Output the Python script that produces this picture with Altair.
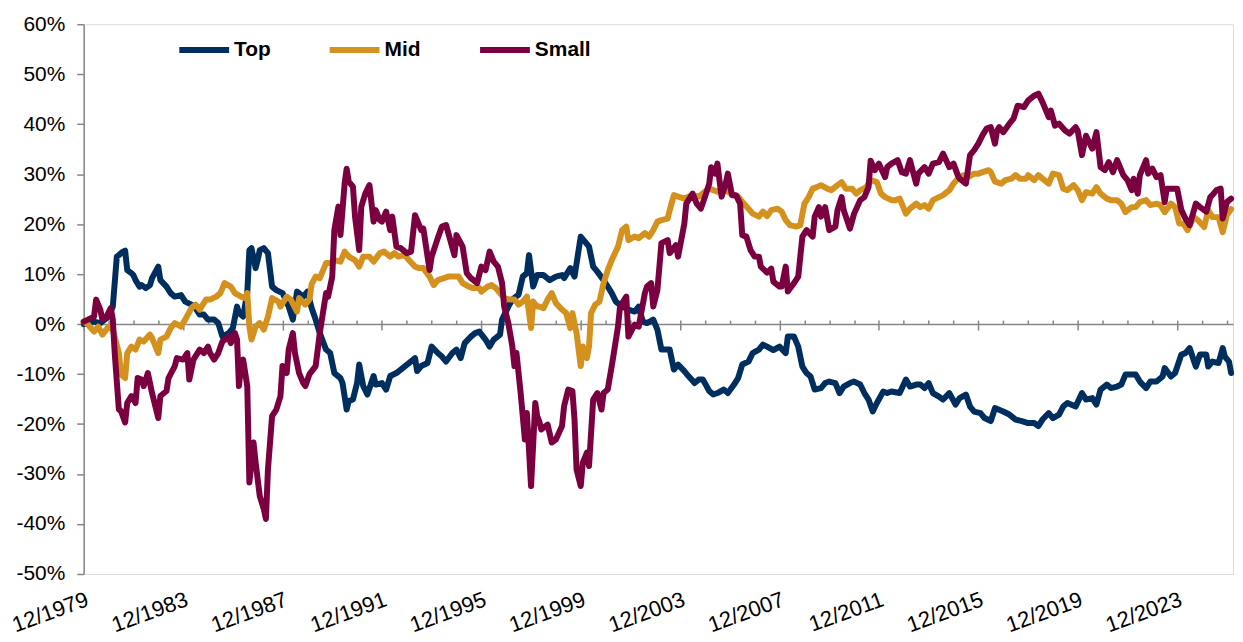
import altair as alt
import pandas as pd

series_names = ["Top", "Mid", "Small"]
series_colors = ["#002F5F", "#D4911E", "#7A0040"]

# months elapsed since 12/1979, and the value in percent
top_months = [0,5,8,12,14,16,17,19,20,21,23,24,25,27,28,30,32,33,36,37,40,42,44,47,49,52,54,56,58,60,63,65,67,70,72,74,75,77,79,80,81,83,84,85,87,89,91,93,96,99,101,103,106,108,110,112,114,117,119,121,124,125,127,128,130,132,133,135,137,140,141,144,146,148,151,154,157,160,161,163,166,168,171,173,175,178,180,182,184,187,189,191,194,196,198,201,202,205,207,210,212,214,215,217,219,222,225,228,231,232,235,237,240,242,244,246,248,251,253,255,257,260,263,266,268,270,272,275,277,279,283,285,287,290,292,295,297,299,302,304,306,309,311,314,316,318,321,323,326,328,330,333,336,339,340,343,345,347,349,351,353,356,358,360,363,365,367,370,372,375,377,379,381,383,386,388,390,394,397,399,402,404,406,408,410,413,415,418,421,423,426,428,430,433,435,438,440,444,447,450,453,456,459,461,463,466,468,471,473,475,479,482,484,487,489,491,494,496,499,501,503,506,508,510,513,515,518,521,522,525,527,530,532,534,537,539,542,543,545,548,550,551,553,554]
top_values = [0,0.5,0.2,1.5,3.5,13.5,13.8,14.5,14.7,10.8,10.2,9.8,8.8,7.5,7.8,7.2,7.8,9.2,11.5,8.8,7.5,6.2,5.5,5.8,4.5,3.9,3.2,1.9,1.9,0.9,0.9,0.2,-2.5,-1.8,-0.8,3.5,2.2,1.5,6.2,14.8,15.2,11.2,12.8,14.8,15.2,14.2,7.5,6.8,6.2,3.5,0.9,6.5,5.5,6.5,3.2,0.9,-1.8,-5.1,-5.8,-9.8,-10.8,-11.8,-17.1,-15.4,-15.1,-11.8,-8.1,-12.4,-14.1,-10.4,-12.1,-11.8,-13.1,-10.4,-9.8,-8.8,-7.8,-6.8,-9.4,-8.4,-7.8,-4.5,-5.8,-6.5,-7.5,-5.8,-5.1,-6.8,-3.8,-2.5,-1.8,-1.5,-3.1,-4.5,-3.1,-2.1,0.9,3.5,4.9,5.9,9.5,10.2,13.8,7.5,9.8,9.8,8.8,9.5,9.8,9.2,11.2,9.5,17.5,16.5,15.5,11.5,10.5,8.8,7.5,6.2,4.5,3.5,2.9,2.5,3.5,0.5,0.2,0.9,-1.1,-5.1,-5.1,-9.1,-8.1,-9.4,-10.4,-11.8,-11.1,-11.1,-13.4,-14.1,-13.8,-13.1,-13.8,-12.1,-10.8,-8.1,-7.5,-5.8,-5.1,-4.1,-4.5,-5.2,-4.5,-5.8,-2.5,-2.5,-4.5,-8.5,-9.8,-10.5,-13.1,-12.8,-11.8,-11.5,-11.8,-13.8,-12.5,-11.8,-11.5,-12.1,-13.8,-15.1,-17.5,-15.8,-13.5,-13.8,-13.5,-13.8,-11.1,-12.5,-12.1,-12.1,-12.8,-11.8,-13.8,-14.5,-15.1,-13.8,-16.1,-14.8,-14.1,-16.5,-17.5,-17.8,-18.8,-19.4,-16.8,-17.5,-18.1,-19.1,-19.4,-19.8,-19.8,-20.4,-19.1,-17.8,-18.8,-18.1,-16.5,-15.8,-16.5,-13.8,-15.1,-14.8,-16.1,-13.1,-12.1,-12.8,-12.5,-12.1,-10.1,-10.1,-10.1,-11.5,-12.8,-11.5,-11.5,-10.5,-8.8,-10.5,-9.8,-6.1,-5.8,-4.8,-8.5,-6.1,-6.1,-8.5,-7.5,-7.8,-4.8,-6.5,-7.5,-9.8]

mid_months = [0,2,5,7,9,12,14,17,18,20,21,23,25,27,29,32,33,36,37,40,42,44,47,49,52,54,56,59,61,64,66,68,71,73,76,78,79,80,81,83,85,87,89,91,94,95,98,100,103,104,107,109,110,112,114,117,119,121,124,126,128,131,133,135,138,140,143,145,148,150,152,155,157,160,162,164,167,169,171,174,176,179,181,183,186,188,191,192,195,197,199,201,203,206,208,210,212,214,216,217,219,220,222,224,226,228,231,233,235,236,238,240,241,243,244,245,247,249,251,253,255,258,260,262,263,266,268,271,273,275,277,279,282,283,285,287,290,292,294,297,300,302,304,306,309,311,314,316,318,321,323,326,328,330,332,335,337,339,341,344,346,348,350,352,354,356,359,361,364,366,368,371,373,375,378,380,383,385,387,390,392,394,397,399,402,404,406,408,410,413,415,418,420,422,425,427,430,432,434,437,438,440,443,445,448,450,452,455,456,459,461,463,466,468,471,473,475,478,480,482,484,487,489,491,494,496,499,501,503,506,508,510,513,515,518,520,522,525,527,529,531,533,536,538,541,543,545,548,550,552,554]
mid_values = [0.5,-0.1,-1.5,-0.5,-2.1,-0.5,-1.1,-5.8,-10.1,-10.8,-5.8,-4.5,-5.1,-3.1,-3.5,-2.1,-2.8,-5.8,-3.1,-2.5,-0.8,0.2,-0.5,0.9,3.2,3.9,2.9,4.9,4.9,5.5,6.2,8.2,7.5,6.2,5.5,5.2,6.2,-0.5,-3.1,-0.5,0.2,-1.1,1.5,5.2,4.5,3.5,5.5,4.9,2.5,5.2,3.9,5.0,8.0,9.5,9.2,12.2,12.2,12.8,12.5,14.5,13.5,12.8,11.5,13.5,13.5,12.5,14.2,14.5,13.5,14.2,13.5,13.8,12.8,11.5,11.2,11.2,9.5,7.8,8.8,9.2,9.5,9.5,9.5,8.2,7.5,7.2,7.2,6.5,7.5,7.8,7.2,6.2,5.2,4.9,4.9,3.9,4.5,5.5,-0.8,4.5,3.5,3.5,3.2,4.9,6.2,4.2,2.9,2.2,-0.8,2.2,-1.8,-8.4,-4.5,-6.8,-4.5,2.2,3.9,4.5,8.2,10.8,12.8,15.5,18.8,19.5,16.8,17.5,17.2,18.2,17.5,18.8,20.5,20.8,21.1,22.8,25.8,25.5,25.1,25.5,25.8,25.5,26.5,27.1,26.8,26.5,26.8,26.5,25.8,25.5,24.5,23.1,22.1,21.5,22.5,21.6,22.8,23.1,22.5,20.8,19.8,19.5,19.8,24.1,25.4,27.1,27.4,27.8,27.1,26.8,27.8,28.4,27.1,27.1,26.1,26.8,27.4,28.8,28.4,26.1,25.4,24.8,24.8,25.1,22.1,23.1,24.1,23.4,23.8,23.1,24.8,25.4,25.8,26.8,28.1,29.1,29.8,29.4,30.1,30.1,30.4,30.8,30.4,28.5,28.1,28.8,29.1,29.8,29.1,29.1,29.8,28.8,29.8,29.1,28.1,30.1,29.8,27.1,26.8,27.8,26.8,24.8,26.4,26.1,27.4,26.1,25.1,24.8,24.8,24.1,22.4,23.4,23.4,24.4,24.8,23.8,24.1,23.8,22.4,24.1,23.4,20.1,20.1,18.8,21.4,20.8,19.4,22.8,21.4,21.4,18.4,21.8,23.0]

small_months = [0,2,5,6,8,9,11,13,14,15,17,18,20,21,23,25,26,28,29,31,33,36,37,40,41,44,45,48,50,51,53,56,58,60,61,63,65,67,70,71,73,74,75,76,77,79,80,82,83,85,87,88,89,91,93,95,96,98,99,101,102,104,106,107,109,112,114,117,118,120,121,123,124,126,127,128,130,131,133,134,136,138,140,141,143,144,146,148,149,151,153,156,158,160,163,164,167,168,171,173,175,177,179,180,183,185,187,190,192,194,196,198,200,202,203,205,207,208,209,211,212,213,214,216,218,219,220,221,224,226,228,231,232,234,236,237,238,240,241,243,244,246,248,250,251,253,255,256,258,259,262,263,266,268,271,272,274,275,277,279,282,283,286,287,290,291,294,296,298,300,302,303,305,306,308,310,311,313,315,317,318,320,322,324,326,327,330,332,333,336,337,339,340,343,345,347,349,352,353,355,356,358,360,363,364,366,367,370,372,375,377,379,380,382,384,387,388,390,393,395,397,399,402,403,406,408,410,413,415,418,420,422,423,426,428,430,432,434,436,438,440,441,442,444,447,449,451,454,456,459,461,463,466,467,469,471,474,476,479,480,482,484,487,489,491,493,495,497,499,502,504,506,507,509,510,513,514,516,518,520,522,523,526,528,530,532,534,537,539,542,544,545,547,549,550,552,554]
small_values = [0.5,0.9,1.5,4.9,2.9,0.9,1.5,3.2,0.9,-5.8,-17.1,-17.4,-19.7,-15.8,-14.4,-15.8,-10.8,-11.1,-12.4,-9.8,-13.8,-18.8,-14.4,-13.4,-10.8,-8.4,-6.8,-7.1,-5.8,-11.1,-7.1,-5.1,-5.8,-4.5,-5.8,-7.1,-5.8,-3.5,-2.5,-3.8,-1.8,-3.1,-12.4,-8.4,-7.1,-12.4,-31.7,-23.7,-27.7,-34.4,-37.0,-39.0,-29.1,-18.4,-17.1,-14.4,-8.4,-9.8,-5.1,-1.8,-5.8,-9.8,-11.8,-12.4,-10.0,-8.4,-1.8,6.2,5.5,9.5,18.8,23.5,17.8,28.1,31.1,28.5,27.5,21.5,14.8,23.5,26.1,27.8,20.5,22.8,20.8,20.5,22.5,18.8,21.5,15.5,15.2,14.2,14.5,21.8,18.8,19.1,10.8,13.5,17.2,19.5,19.8,16.8,13.8,17.8,15.5,10.2,9.2,8.2,11.5,10.8,14.5,12.5,11.5,8.2,3.5,0.2,-4.5,-8.4,-5.8,-13.8,-18.4,-23.1,-17.8,-32.4,-15.8,-18.4,-19.5,-21.1,-20.1,-23.7,-23.1,-20.4,-16.4,-13.1,-13.4,-19.1,-29.1,-32.4,-27.7,-25.7,-28.4,-15.1,-13.8,-17.1,-13.8,-13.1,-8.4,-5.8,-0.5,3.5,5.5,-2.5,-0.1,-0.5,6.2,7.5,8.2,3.5,6.8,16.2,16.8,14.2,15.8,13.5,20.1,24.1,26.1,24.1,23.1,25.5,28.1,31.4,30.1,32.1,25.5,28.1,30.1,25.8,25.8,24.1,17.8,17.5,14.8,13.5,13.5,11.5,10.3,11.1,8.5,7.5,7.5,11.5,6.5,8.2,9.5,17.5,18.8,17.5,21.5,23.4,21.5,23.4,18.8,19.5,22.8,25.4,22.8,19.1,22.1,24.8,25.4,27.4,32.7,30.8,32.1,29.4,31.4,32.1,32.8,30.4,30.1,32.8,28.1,30.1,31.4,30.1,32.1,32.4,34.1,31.4,32.1,29.8,29.1,28.1,33.8,34.8,36.1,37.8,39.1,39.4,36.1,38.7,39.4,38.4,40.1,41.1,43.7,43.4,44.7,45.7,46.1,44.4,41.4,42.7,39.7,40.1,38.7,38.1,39.4,38.7,33.8,37.7,35.1,38.4,31.4,30.8,32.4,30.4,32.8,29.8,28.8,26.8,29.1,26.1,29.8,32.8,30.1,31.1,29.4,29.8,24.4,27.1,27.1,27.1,22.8,21.1,19.8,24.1,23.4,22.5,25.4,25.8,26.8,27.1,21.1,24.4,25.1]

y_ticks = [-50, -40, -30, -20, -10, 0, 10, 20, 30, 40, 50, 60]
tick_years = list(range(1979, 2026))
label_years = list(range(1979, 2024, 4))

start = pd.Timestamp("1979-12-01")


def frame(name, months, values):
    dates = [(start + pd.DateOffset(months=m)).strftime("%Y-%m-%dT00:00:00") for m in months]
    return pd.DataFrame({"date": dates, "value": values, "series": name})


df = pd.concat([
    frame("Top", top_months, top_values),
    frame("Mid", mid_months, mid_values),
    frame("Small", small_months, small_values),
], ignore_index=True)

ticks_df = pd.DataFrame({"date": [f"{y}-12-01T00:00:00" for y in tick_years]})

GREY = "#868686"
FONT = "Liberation Sans"
PLOT_W = 1154
PLOT_H = 552
ZERO_FROM_TOP = PLOT_H * 60 / 110

xscale = alt.Scale(domain=[alt.DateTime(year=1979, month=12, date=1),
                           alt.DateTime(year=2026, month=3, date=1)], nice=False)
yscale = alt.Scale(domain=[-50, 60], nice=False)

label_axis = alt.Axis(
    orient="bottom", values=[alt.DateTime(year=y, month=12, date=1) for y in label_years],
    format="%m/%Y", labelAngle=-20, labelFontSize=22, labelFont=FONT, labelColor="#000000",
    domain=False, ticks=False, grid=False, title=None, labelPadding=15,
    labelFlush=False, labelOverlap=False,
)
y_axis = alt.Axis(
    values=y_ticks, labelExpr="datum.value + '%'", labelFontSize=21, labelFont=FONT,
    labelColor="#000000", domainColor=GREY, domainWidth=1.5, tickColor=GREY, tickWidth=1.5,
    tickSize=7, labelPadding=12, grid=False, title=None,
)
legend = alt.Legend(
    orient="none", legendX=93, legendY=-2, direction="horizontal", columns=3,
    gridAlign="all", columnPadding=27, symbolType="stroke", symbolSize=2500,
    symbolStrokeWidth=6, labelFontSize=21, labelFont=FONT, labelFontWeight="bold",
    labelColor="#000000", labelOffset=2, title=None, padding=0,
)
color = alt.Color("series:N", scale=alt.Scale(domain=series_names, range=series_colors), legend=legend)

layers = []
for i, name in enumerate(series_names):
    layers.append(
        alt.Chart(df).transform_filter(alt.datum.series == name)
        .mark_line(strokeWidth=6, strokeJoin="round", strokeCap="round")
        .encode(
            x=alt.X("date:T", scale=xscale, axis=label_axis if i == 0 else None),
            y=alt.Y("value:Q", scale=yscale, axis=y_axis),
            color=color,
        )
    )

minor_axis = alt.Chart(ticks_df).mark_point(opacity=0).encode(
    x=alt.X("date:T", scale=xscale, axis=alt.Axis(
        orient="top", offset=-ZERO_FROM_TOP, values=[alt.DateTime(year=y, month=12, date=1) for y in tick_years],
        labels=False, ticks=True, tickSize=4, tickColor=GREY, tickWidth=1.5,
        domain=True, domainColor=GREY, domainWidth=1.5, grid=False, title=None)),
)
major_axis = alt.Chart(ticks_df).mark_point(opacity=0).encode(
    x=alt.X("date:T", scale=xscale, axis=alt.Axis(
        orient="bottom", offset=-(PLOT_H - ZERO_FROM_TOP), values=[alt.DateTime(year=y, month=12, date=1) for y in label_years],
        labels=False, ticks=True, tickSize=6, tickColor=GREY, tickWidth=1.5,
        domain=False, grid=False, title=None)),
)

chart = (
    alt.layer(minor_axis, major_axis, *layers)
    .resolve_axis(x="independent")
    .properties(width=PLOT_W, height=PLOT_H, padding={"left": 0, "top": 4, "right": 0, "bottom": 0})
    .configure_view(stroke=None)
    .configure(font=FONT)
)

chart.save("out.html", embed_options={"renderer": "svg", "actions": False})
